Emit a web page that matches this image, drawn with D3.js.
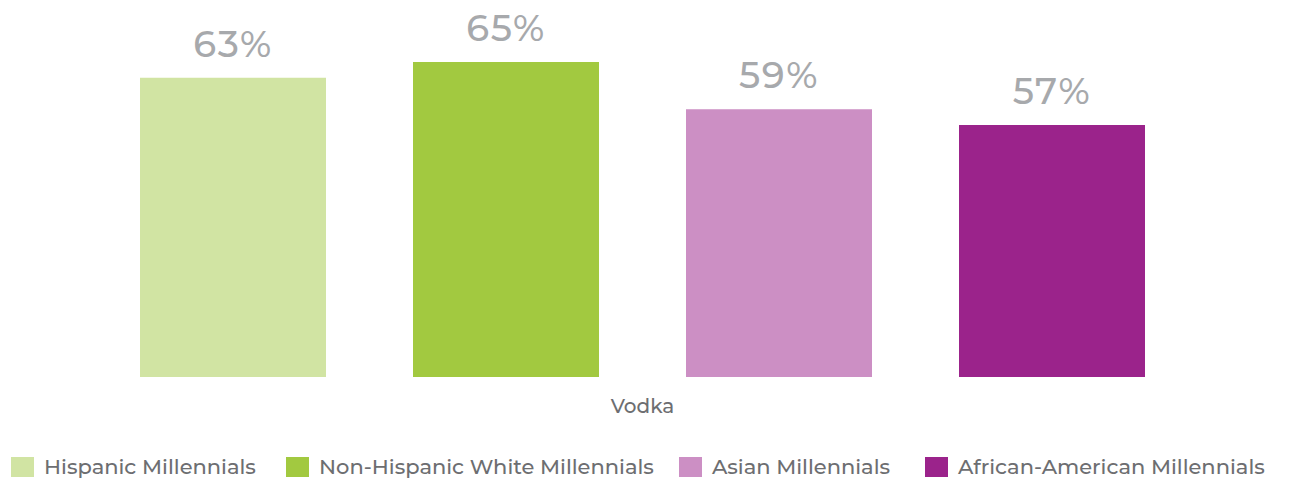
<!DOCTYPE html>
<html>
<head>
<meta charset="utf-8">
<script src="https://cdn.jsdelivr.net/npm/d3@7"></script>
<style>
  html, body { margin: 0; padding: 0; background: #fff; }
  svg { display: block; }
  text { font-family: "Montserrat", "Lato", "Open Sans", sans-serif; }
</style>
</head>
<body>
<svg id="chart" width="1290" height="478"></svg>
<script>
// Share of millennials drinking vodka, by group
const categories = ["Vodka"];
const seriesNames = ["Hispanic Millennials", "Non-Hispanic White Millennials", "Asian Millennials", "African-American Millennials"];
const seriesValues = [63, 65, 59, 57];
const seriesColors = ["#d1e4a3", "#a2c940", "#cc8fc4", "#9b238b"];

const svg = d3.select("#chart");

const x0 = d3.scaleBand().domain(categories).range([140, 1145]).paddingInner(0).paddingOuter(0);
const x1 = d3.scaleBand().domain(seriesNames).range([0, x0.bandwidth()])
  .paddingInner(87 / 273).paddingOuter(0);
const y = d3.scaleLinear().domain([25, 65]).range([377, 62]);

const g = svg.append("g");

categories.forEach(cat => {
  const grp = g.append("g").attr("transform", `translate(${x0(cat)},0)`);
  const rows = seriesNames.map((n, i) => ({ name: n, value: seriesValues[i], color: seriesColors[i] }));

  grp.selectAll("rect")
    .data(rows)
    .join("rect")
    .attr("x", d => x1(d.name))
    .attr("y", d => y(d.value))
    .attr("width", x1.bandwidth())
    .attr("height", d => y(y.domain()[0]) - y(d.value))
    .attr("fill", d => d.color);

  grp.selectAll("text.val")
    .data(rows)
    .join("text")
    .attr("class", "val")
    .attr("x", d => x1(d.name) + x1.bandwidth() / 2)
    .attr("y", d => y(d.value) - 21)
    .attr("text-anchor", "middle")
    .attr("font-size", 37)
    .attr("font-weight", 500)
    .attr("letter-spacing", 1.5)
    .attr("fill", "#a7a9ac")
    .text(d => d.value + "%");
});

// category axis label
const xAxis = d3.axisBottom(x0).tickSize(0).tickPadding(22);
const ax = svg.append("g").attr("transform", "translate(0,377)").call(xAxis);
ax.select(".domain").remove();
ax.selectAll("text")
  .attr("font-size", 20)
  .attr("font-weight", 500)
  .attr("fill", "#6d6e71")
  .style("font-family", '"Montserrat", "Lato", sans-serif');

// legend
const legendX = [11, 286, 679, 925];
const leg = svg.append("g").attr("transform", "translate(0,457)");
const items = leg.selectAll("g").data(seriesNames).join("g")
  .attr("transform", (d, i) => `translate(${legendX[i]},0)`);
items.append("rect").attr("width", 23).attr("height", 20).attr("fill", (d, i) => seriesColors[i]);
items.append("text").attr("x", 33).attr("y", 17).attr("font-size", 21)
  .attr("font-weight", 500).attr("fill", "#6d6e71").text(d => d);
</script>
</body>
</html>
